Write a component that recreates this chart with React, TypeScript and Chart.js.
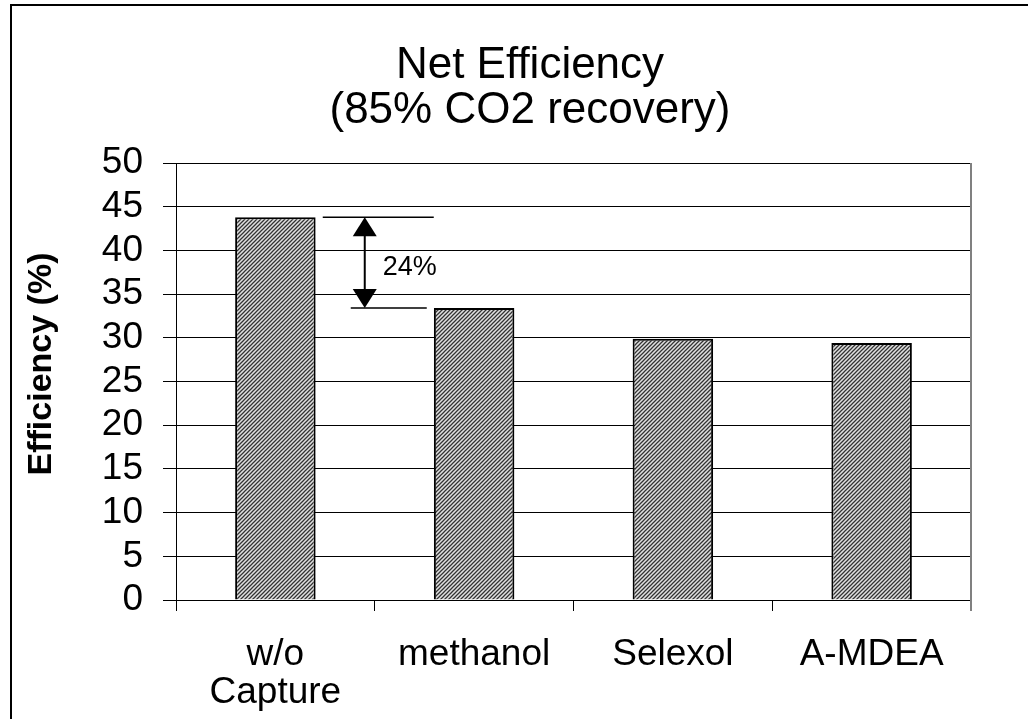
import { useEffect, useRef } from 'react';
import { Chart, registerables } from 'chart.js';

Chart.register(...registerables);

const categories: (string | string[])[] = [['w/o', 'Capture'], 'methanol', 'Selexol', 'A-MDEA'];
const efficiency = [43.8, 33.4, 29.9, 29.4];
const yMin = 0;
const yMax = 50;
const yStep = 5;
const titleLines = ['Net Efficiency', '(85% CO2 recovery)'];
const yAxisTitle = 'Efficiency (%)';
const dropLabel = '24%';

const FONT = '"Liberation Sans", Arial, sans-serif';

function makePattern(ctx: CanvasRenderingContext2D) {
  const c = document.createElement('canvas');
  c.width = 4;
  c.height = 4;
  const g = c.getContext('2d')!;
  g.fillStyle = '#e0e0e0';
  g.fillRect(0, 0, 4, 4);
  g.strokeStyle = '#333333';
  g.lineWidth = 1.25;
  g.beginPath();
  g.moveTo(0, 4); g.lineTo(4, 0);
  g.moveTo(-1, 1); g.lineTo(1, -1);
  g.moveTo(3, 5); g.lineTo(5, 3);
  g.stroke();
  return ctx.createPattern(c, 'repeat');
}

const backgroundPlugin = {
  id: 'bgBorder',
  beforeDraw(chart: any) {
    const { ctx, width, height } = chart;
    ctx.save();
    ctx.fillStyle = '#ffffff';
    ctx.fillRect(0, 0, width, height);
    ctx.strokeStyle = '#000';
    ctx.lineWidth = 2;
    ctx.beginPath();
    ctx.moveTo(11, height);
    ctx.lineTo(11, 5);
    ctx.lineTo(width, 5);
    ctx.stroke();
    ctx.restore();
  },
};

const textPlugin = {
  id: 'texts',
  afterDraw(chart: any) {
    const { ctx } = chart;
    ctx.save();
    ctx.fillStyle = '#000';
    ctx.font = `44px ${FONT}`;
    ctx.textAlign = 'center';
    ctx.textBaseline = 'middle';
    ctx.fillText(titleLines[0], 530, 66);
    ctx.fillText(titleLines[1], 530, 111);
    ctx.translate(42, 364);
    ctx.rotate(-Math.PI / 2);
    ctx.font = `bold 34px ${FONT}`;
    ctx.fillText(yAxisTitle, 0, 0);
    ctx.restore();
  },
};

const frameAndAnnotation = {
  id: 'frameAnno',
  beforeDatasetsDraw(chart: any) {
    const { ctx, chartArea } = chart;
    ctx.save();
    ctx.strokeStyle = '#808080';
    ctx.lineWidth = 2;
    ctx.beginPath();
    ctx.moveTo(chartArea.right, chartArea.top);
    ctx.lineTo(chartArea.right, chartArea.bottom + 11);
    ctx.stroke();
    ctx.restore();
  },
  afterDatasetsDraw(chart: any) {
    const { ctx } = chart;
    const x = chart.scales.x;
    const y = chart.scales.y;
    const yA = y.getPixelForValue(efficiency[0]);
    const yB = y.getPixelForValue(efficiency[1]);
    const mid = (x.getPixelForValue(0) + x.getPixelForValue(1)) / 2;
    ctx.save();
    ctx.strokeStyle = '#000';
    ctx.fillStyle = '#000';
    ctx.lineWidth = 1.5;
    ctx.beginPath();
    ctx.moveTo(mid - 52, yA); ctx.lineTo(mid + 59, yA);
    ctx.moveTo(mid - 24, yB); ctx.lineTo(mid + 52, yB);
    ctx.stroke();
    const ax = mid - 10;
    ctx.lineWidth = 2;
    ctx.beginPath();
    ctx.moveTo(ax, yA + 15); ctx.lineTo(ax, yB - 15);
    ctx.stroke();
    ctx.beginPath();
    ctx.moveTo(ax, yA); ctx.lineTo(ax - 12, yA + 19); ctx.lineTo(ax + 12, yA + 19); ctx.closePath();
    ctx.fill();
    ctx.beginPath();
    ctx.moveTo(ax, yB); ctx.lineTo(ax - 12, yB - 19); ctx.lineTo(ax + 12, yB - 19); ctx.closePath();
    ctx.fill();
    ctx.font = `27px ${FONT}`;
    ctx.textAlign = 'left';
    ctx.textBaseline = 'middle';
    ctx.fillText(dropLabel, mid + 8, (yA + yB) / 2 + 5);
    ctx.restore();
  },
};

export default function App() {
  const ref = useRef<HTMLCanvasElement>(null);
  useEffect(() => {
    const canvas = ref.current!;
    const ctx = canvas.getContext('2d')!;
    const pattern = makePattern(ctx);
    const chart = new Chart(canvas, {
      type: 'bar',
      data: {
        labels: categories as any,
        datasets: [
          {
            data: efficiency,
            backgroundColor: pattern as any,
            borderColor: '#000',
            borderWidth: 2,
            barPercentage: 0.405,
            categoryPercentage: 1,
          },
        ],
      },
      options: {
        animation: false,
        responsive: true,
        maintainAspectRatio: false,
        layout: { padding: { left: 11, top: 163, right: 57, bottom: 0 } },
        plugins: {
          legend: { display: false },
          tooltip: { enabled: false },
          title: { display: false },
        },
        scales: {
          x: {
            grid: {
              display: true,
              drawOnChartArea: false,
              drawTicks: true,
              tickLength: 11,
              color: '#000',
              lineWidth: 1,
            },
            border: { color: '#000', width: 1 },
            ticks: {
              color: '#000',
              font: { family: FONT, size: 37, lineHeight: 1.03 },
              padding: 25,
              maxRotation: 0,
              autoSkip: false,
            },
            afterFit(scale: any) {
              scale.height = 119;
            },
          },
          y: {
            min: yMin,
            max: yMax,
            grid: {
              color: '#000',
              lineWidth: 1,
              tickLength: 13,
            },
            border: { color: '#000', width: 1 },
            ticks: {
              stepSize: yStep,
              autoSkip: false,
              color: '#000',
              font: { family: FONT, size: 37 },
              padding: 20,
            },
            afterFit(scale: any) {
              scale.width = 165;
            },
          },
        },
      },
      plugins: [backgroundPlugin, frameAndAnnotation, textPlugin],
    });
    return () => chart.destroy();
  }, []);
  return (
    <div style={{ position: 'fixed', left: 0, top: 0, width: 1028, height: 719, overflow: 'hidden' }}>
      <canvas ref={ref} />
    </div>
  );
}
